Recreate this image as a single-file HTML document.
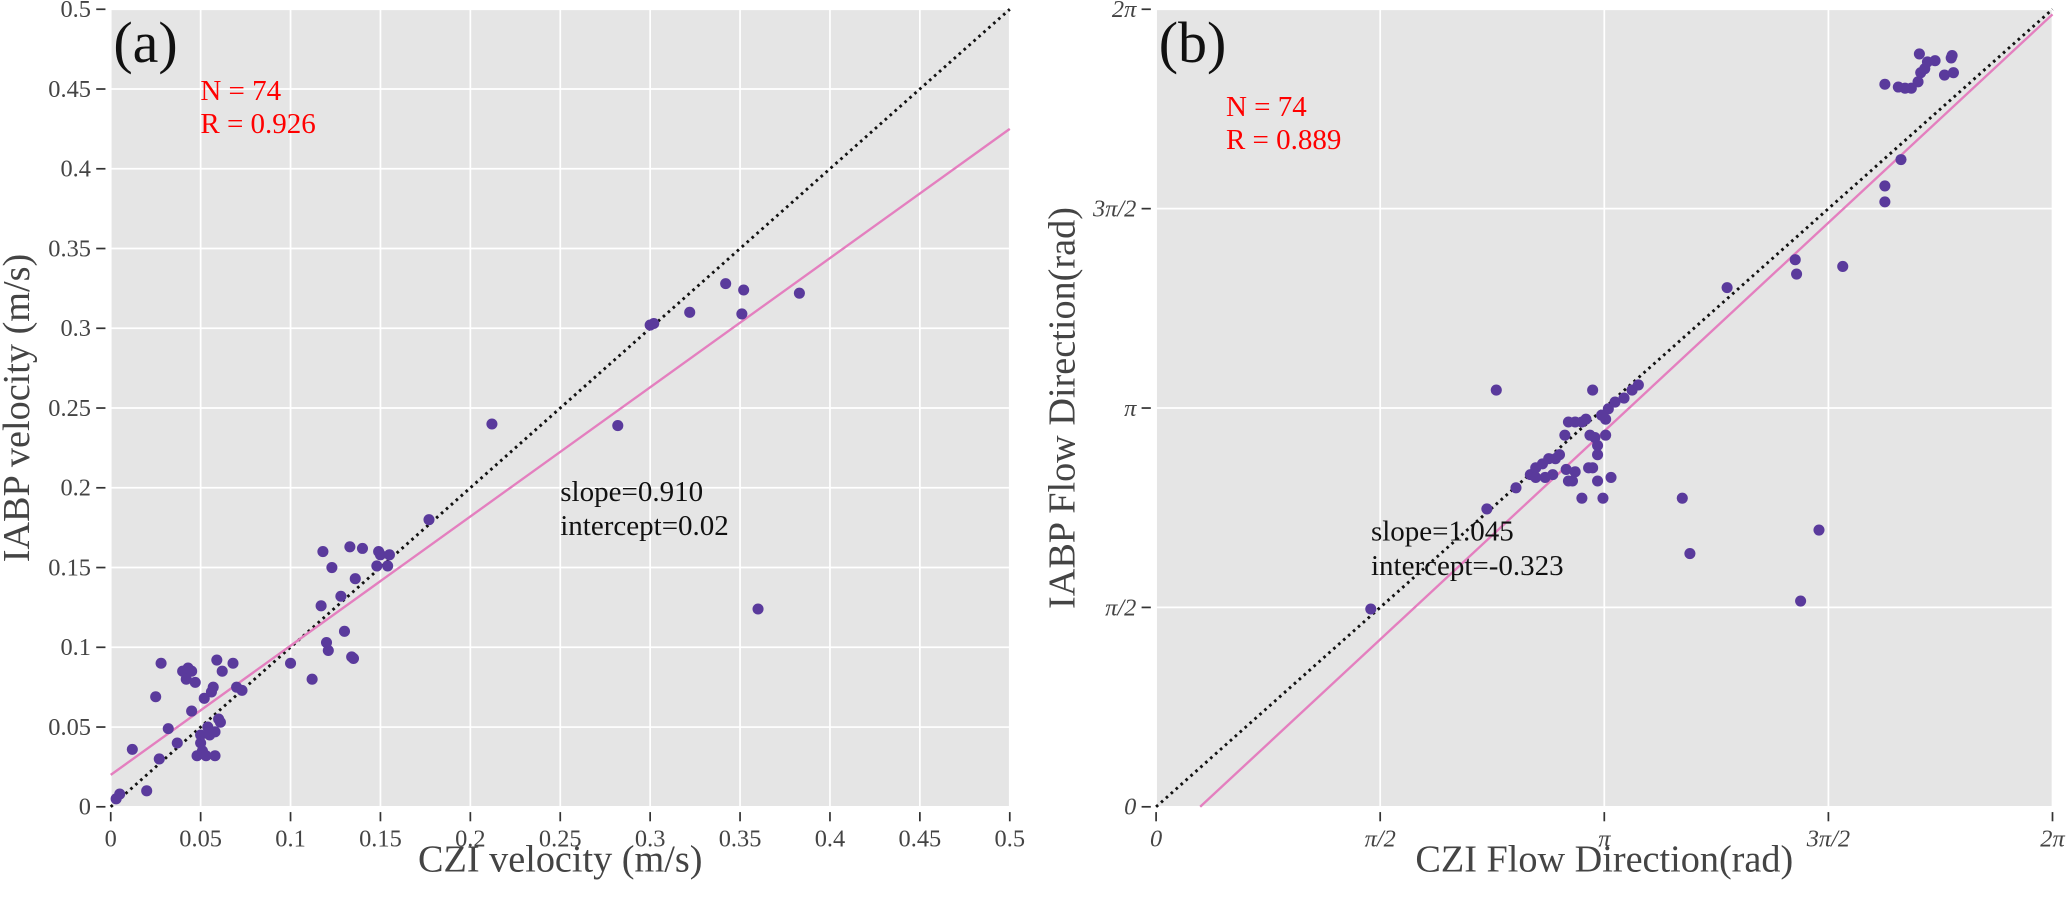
<!DOCTYPE html>
<html><head><meta charset="utf-8"><style>
html,body{margin:0;padding:0;background:#fff;}
svg{display:block;font-family:"Liberation Serif","DejaVu Serif",serif;}
</style></head><body>
<svg id="chart" width="2067" height="909" viewBox="0 0 1568 689.5" xmlns="http://www.w3.org/2000/svg">
<g id="pa"></g>
<g id="pb"></g>
</svg>
<script>
// Panel (a) data: CZI velocity vs IABP velocity (m/s)
const czi_a = [0.003,0.005,0.012,0.02,0.025,0.027,0.028,0.032,0.037,0.04,0.042,0.043,0.045,0.045,0.047,0.048,0.05,0.05,0.051,0.052,0.053,0.054,0.055,0.056,0.057,0.058,0.058,0.059,0.06,0.061,0.062,0.068,0.07,0.073,0.1,0.112,0.117,0.118,0.12,0.121,0.123,0.128,0.13,0.133,0.134,0.135,0.136,0.14,0.148,0.149,0.15,0.154,0.155,0.177,0.212,0.282,0.3,0.302,0.322,0.342,0.351,0.352,0.36,0.383];
const iabp_a = [0.005,0.008,0.036,0.01,0.069,0.03,0.09,0.049,0.04,0.085,0.08,0.087,0.085,0.06,0.078,0.032,0.045,0.04,0.035,0.068,0.032,0.05,0.045,0.072,0.075,0.032,0.047,0.092,0.055,0.053,0.085,0.09,0.075,0.073,0.09,0.08,0.126,0.16,0.103,0.098,0.15,0.132,0.11,0.163,0.094,0.093,0.143,0.162,0.151,0.16,0.158,0.151,0.158,0.18,0.24,0.239,0.302,0.303,0.31,0.328,0.309,0.324,0.124,0.322];
const ticks_a = [0,0.05,0.1,0.15,0.2,0.25,0.3,0.35,0.4,0.45,0.5];
const tickLabels_a = ["0","0.05","0.1","0.15","0.2","0.25","0.3","0.35","0.4","0.45","0.5"];
const fitEnd_a = [0.0, 0.02, 0.5, 0.425];

// Panel (b) data: flow directions, in units of pi
const czi_b = [0.479,0.738,0.759,0.803,0.835,0.847,0.862,0.876,0.891,0.9,0.912,0.847,0.868,0.885,0.915,0.92,0.935,0.95,0.959,0.974,0.968,0.979,0.985,0.974,0.965,0.935,0.92,0.929,0.95,0.985,0.997,1.015,1.003,1.009,1.024,1.044,1.062,1.076,0.994,1.003,0.985,1.174,1.191,1.274,1.426,1.429,1.438,1.479,1.532,1.626,1.626,1.662,1.626,1.656,1.671,1.685,1.7,1.706,1.715,1.703,1.721,1.738,1.759,1.774,1.779,1.776];
const iabp_b = [0.496,0.747,1.045,0.8,0.833,0.85,0.86,0.873,0.873,0.883,0.932,0.826,0.826,0.833,0.846,0.965,0.965,0.965,0.972,1.045,0.932,0.926,0.883,0.85,0.85,0.84,0.817,0.817,0.774,0.817,0.774,0.826,0.972,0.998,1.015,1.025,1.045,1.058,0.982,0.932,0.906,0.774,0.635,1.302,1.372,1.336,0.516,0.694,1.355,1.517,1.557,1.623,1.812,1.805,1.802,1.802,1.818,1.841,1.851,1.888,1.868,1.871,1.835,1.878,1.841,1.884];
const ticks_b = [0,0.5,1,1.5,2];
const tickLabels_b = ["0","π/2","π","3π/2","2π"];
const fit_b = [1.045, -0.323/Math.PI];

const NS="http://www.w3.org/2000/svg";
function mk(parent,tag,attrs,text){const e=document.createElementNS(NS,tag);for(const k in attrs)e.setAttribute(k,attrs[k]);if(text!==undefined)e.textContent=text;parent.appendChild(e);return e;}

function panel(g, o){
  const sx=v=>o.x0+(v-o.min)/(o.max-o.min)*(o.x1-o.x0);
  const sy=v=>o.y0-(v-o.min)/(o.max-o.min)*(o.y0-o.y1);
  const bg=mk(g,'rect',{x:o.x0,y:o.y1,width:o.x1-o.x0,height:o.y0-o.y1,fill:'#e5e5e5'});
  
  
  o.ticks.forEach((t,i)=>{
    const gx=mk(g,'line',{x1:sx(t),x2:sx(t),y1:o.y1,y2:o.y0,stroke:'#fff','stroke-width':1.3});
    
    
    const gy=mk(g,'line',{x1:o.x0,x2:o.x1,y1:sy(t),y2:sy(t),stroke:'#fff','stroke-width':1.3});
    
    
    const tx=mk(g,'line',{x1:sx(t),x2:sx(t),y1:o.y0+4,y2:o.y0+11,stroke:'#333','stroke-width':1.3});
    
    
    const ty=mk(g,'line',{x1:o.x0-4,x2:o.x0-11,y1:sy(t),y2:sy(t),stroke:'#333','stroke-width':1.3});
    
    
    const lx=mk(g,'text',{x:sx(t),y:o.y0+30,'text-anchor':'middle','font-size':18.5,fill:'#444','font-style':o.italic?'italic':'normal'},o.labels[i]);
    
    
    const ly=mk(g,'text',{x:o.x0-15,y:sy(t)+6,'text-anchor':'end','font-size':18.5,fill:'#444','font-style':o.italic?'italic':'normal'},o.labels[i]);
    
    
  });
  const id=mk(g,'line',{x1:sx(o.min),y1:sy(o.min),x2:sx(o.max),y2:sy(o.max),stroke:'#111','stroke-width':2.2,'stroke-dasharray':'2 3'});
  
  
  const [m,b]=o.fit;
  let xa=o.min, ya=m*xa+b; if(ya<o.min){xa=(o.min-b)/m;ya=o.min;}
  let xb=o.max, yb=m*xb+b; if(yb>o.max){xb=(o.max-b)/m;yb=o.max;}
  const fl=mk(g,'line',{x1:sx(xa),y1:sy(ya),x2:sx(xb),y2:sy(yb),stroke:'#e47fbf','stroke-width':1.8});
  
  
  o.xs.forEach((v,i)=>{
    const c=mk(g,'circle',{cx:sx(v),cy:sy(o.ys[i]),r:4.2,fill:'#5a3a9c'});
    
    
  });
  const pl=mk(g,'text',{x:o.x0+2,y:o.y1+40,'font-size':44,fill:'#111'},o.tag);
  
  
  const n1=mk(g,'text',{x:o.nx,y:o.ny,'font-size':22,fill:'#f00'},'N = 74');
  
  
  const n2=mk(g,'text',{x:o.nx,y:o.ny+25,'font-size':22,fill:'#f00'},o.rtext);
  
  
  const s1=mk(g,'text',{x:o.sx,y:o.sy,'font-size':22,fill:'#111'},o.slope);
  
  
  const s2=mk(g,'text',{x:o.sx,y:o.sy+26,'font-size':22,fill:'#111'},o.icpt);
  
  
  const xt=mk(g,'text',{x:(o.x0+o.x1)/2,y:o.y0+49,'text-anchor':'middle','font-size':29,fill:'#444'},o.xlabel);
  
  
  const yx=o.x0-62, yy=(o.y0+o.y1)/2;
  const yt=mk(g,'text',{x:yx,y:yy,'text-anchor':'middle','font-size':29,fill:'#444',transform:`rotate(-90 ${yx} ${yy})`},o.ylabel);
  
  
}
panel(document.getElementById('pa'),{x0:84,x1:766,y0:612,y1:7,min:0,max:0.5,ticks:ticks_a,labels:tickLabels_a,xs:czi_a,ys:iabp_a,fit:[(fitEnd_a[3]-fitEnd_a[1])/(fitEnd_a[2]-fitEnd_a[0]),fitEnd_a[1]],tag:'(a)',nx:152,ny:76,rtext:'R = 0.926',sx:425,sy:380,slope:'slope=0.910',icpt:'intercept=0.02',xlabel:'CZI velocity (m/s)',ylabel:'IABP velocity (m/s)'});
panel(document.getElementById('pb'),{x0:877,x1:1557,y0:612,y1:7,min:0,max:2,ticks:ticks_b,labels:tickLabels_b,italic:true,xs:czi_b,ys:iabp_b,fit:fit_b,tag:'(b)',nx:930,ny:88,rtext:'R = 0.889',sx:1040,sy:410,slope:'slope=1.045',icpt:'intercept=-0.323',xlabel:'CZI Flow Direction(rad)',ylabel:'IABP Flow Direction(rad)'});
</script>
</body></html>
